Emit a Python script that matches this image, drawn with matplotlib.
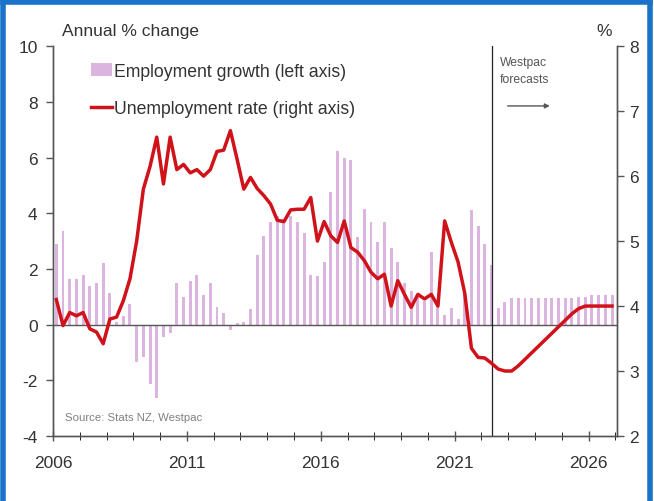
import matplotlib.pyplot as plt
import numpy as np
from matplotlib.lines import Line2D
from matplotlib.patches import Patch

plt.rcParams['font.family'] = ['Liberation Sans', 'DejaVu Sans']
plt.rcParams['axes.unicode_minus'] = False

# quarterly, Mar 2006 to Dec 2026
quarters = 2006.125 + 0.25 * np.arange(84)

# employment growth, annual % change (left axis)
emp_growth = [2.9, 3.35, 1.65, 1.65, 1.8, 1.4, 1.5, 2.2, 1.15, 0.1, 0.3, 0.75,
              -1.35, -1.15, -2.15, -2.65, -0.45, -0.3,
              1.5, 1.0, 1.55, 1.8, 1.05, 1.5, 0.65, 0.4, -0.2, 0.05, 0.1, 0.55, 2.5, 3.2,
              3.7, 3.9, 3.8, 3.9, 3.7, 3.3,
              1.8, 1.75, 2.25,
              4.75, 6.25, 6.0, 5.9, 3.15, 4.15, 3.7, 2.95, 3.7, 2.75, 2.25, 1.5, 1.2,
              1.05, 0.85, 2.6, 0.8, 0.35, 0.6, 0.2,
              1.2,
              4.1, 3.55, 2.9, 2.15,
              0.6, 0.8, 0.95, 0.95, 0.95, 0.95, 0.95, 0.95, 0.95, 0.95, 0.95, 0.95,
              1.0, 1.0, 1.05, 1.05, 1.05, 1.05]

# unemployment rate, % (right axis)
unemp = [4.1, 3.7, 3.9, 3.85, 3.9, 3.65, 3.6, 3.42, 3.8, 3.83, 4.08, 4.42,
         5.0, 5.8, 6.15, 6.6, 5.88, 6.6, 6.1, 6.18, 6.05, 6.1, 6.0, 6.1,
         6.38, 6.4, 6.7, 6.26, 5.8, 5.98, 5.81, 5.7, 5.57, 5.32, 5.3, 5.48,
         5.49, 5.49, 5.67, 5.0, 5.3, 5.08, 4.98, 5.31, 4.9, 4.83, 4.7, 4.52,
         4.42, 4.49, 4.0, 4.39, 4.18, 3.98, 4.18, 4.11, 4.18, 4.0, 5.31, 4.98,
         4.68, 4.2, 3.35, 3.21, 3.2, 3.12, 3.03, 3.0, 3.0, 3.08, 3.18, 3.28,
         3.38, 3.48, 3.58, 3.68, 3.78, 3.88, 3.96, 4.0, 4.0, 4.0, 4.0, 4.0]

forecast_start = 2022.4

bar_col = '#dcb4e0'
line_col = '#d0121b'
axis_col = '#555555'
text_col = '#333333'

fig = plt.figure(figsize=(6.54, 5.02), dpi=100)
ax = fig.add_axes([0.081, 0.1295, 0.862, 0.7765])
ax2 = ax.twinx()

ax.bar(quarters, emp_growth, width=0.11, color=bar_col, zorder=2)
ax.axhline(0, color=axis_col, lw=1.0, zorder=3)
ax.axvline(forecast_start, color='#222222', lw=0.9, zorder=3)
ax2.plot(quarters, unemp, color=line_col, lw=2.5, solid_joinstyle='round', zorder=4)

ax.set_xlim(2006, 2027.05)
ax.set_ylim(-4, 10)
ax2.set_ylim(2, 8)
ax.set_yticks(np.arange(-4, 11, 2))
ax2.set_yticks(np.arange(2, 9, 1))
ax.set_xticks(np.arange(2006, 2027, 5))
ax.set_xticks(np.arange(2006, 2028, 1), minor=True)

for a in (ax, ax2):
    a.spines['top'].set_visible(False)
    for s in ('left', 'right', 'bottom'):
        a.spines[s].set_color(axis_col)
        a.spines[s].set_linewidth(1.0)
    a.tick_params(colors=axis_col, labelcolor=text_col, labelsize=12.5, width=1.0)
    a.patch.set_visible(False)

ax.tick_params(axis='x', which='both', direction='inout', length=7, pad=10)
ax.tick_params(axis='x', which='minor', length=6)
ax.tick_params(axis='y', length=5, pad=6)
ax2.tick_params(axis='y', length=5, pad=4)

fig.text(0.095, 0.928, 'Annual % change', fontsize=12.5, color=text_col)
fig.text(0.912, 0.928, '%', fontsize=12.5, color=text_col)

handles = [Patch(facecolor=bar_col, edgecolor='none'),
           Line2D([0], [0], color=line_col, lw=2.5)]
ax.legend(handles, ['Employment growth (left axis)', 'Unemployment rate (right axis)'],
          loc='upper left', bbox_to_anchor=(0.128, 0.887), bbox_transform=fig.transFigure,
          frameon=False, fontsize=12.7, handlelength=1.2, handletextpad=0.1,
          labelspacing=1.15, borderaxespad=0, labelcolor=text_col)

fig.text(0.764, 0.887, 'Westpac\nforecasts', fontsize=8.7, color='#555555',
         va='top', linespacing=1.6)
ax.annotate('', xy=(0.845, 0.787), xytext=(0.772, 0.787),
            xycoords='figure fraction',
            arrowprops=dict(arrowstyle='-|>', color='#555555', lw=1.0,
                            mutation_scale=7))

fig.text(0.1, 0.162, 'Source: Stats NZ, Westpac', fontsize=8.2, color='#808080')

# blue frame
frame_col = '#1a73c8'
fig.add_artist(Line2D([0.004, 0.004], [0, 0.994], color=frame_col, lw=4,
                      transform=fig.transFigure))
fig.add_artist(Line2D([0.004, 0.994], [0.994, 0.994], color=frame_col, lw=4,
                      transform=fig.transFigure))
fig.add_artist(Line2D([0.994, 0.994], [0, 0.994], color=frame_col, lw=4,
                      transform=fig.transFigure))

fig.savefig('out.png', dpi=100)
